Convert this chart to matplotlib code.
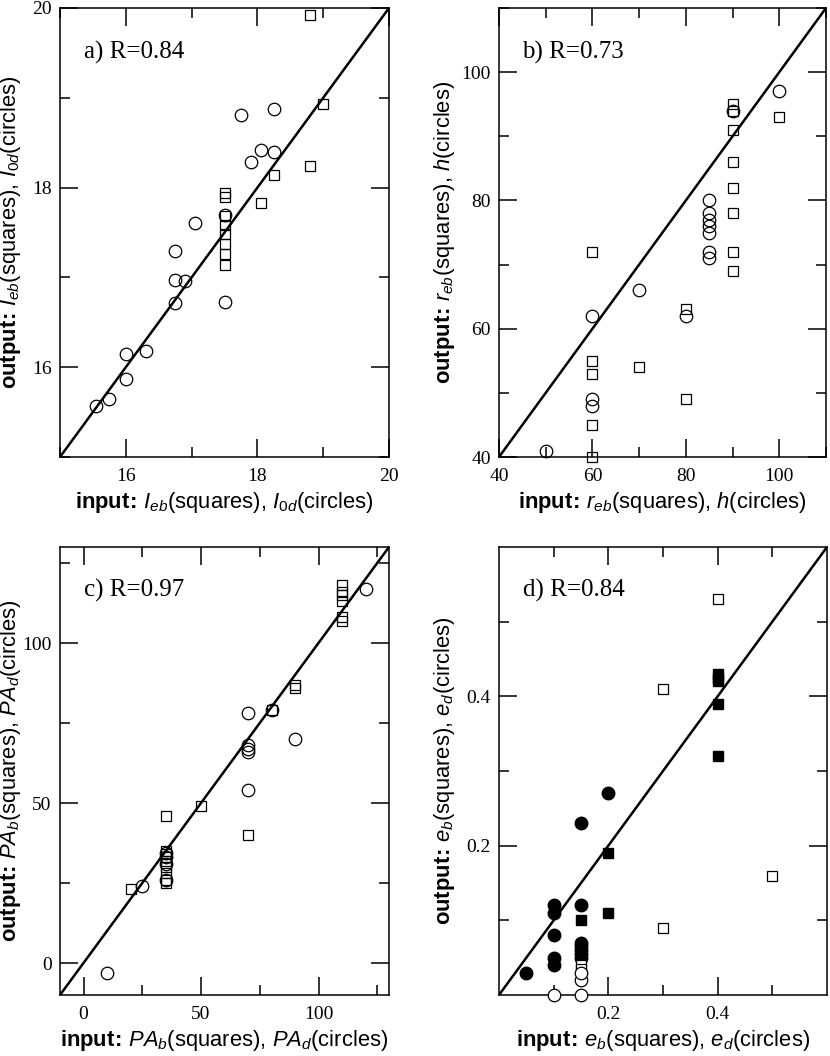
import numpy as np
import matplotlib
matplotlib.use("Agg")
import matplotlib.pyplot as plt
from matplotlib.ticker import FixedLocator

plt.rcParams['font.family'] = ['Liberation Sans', 'DejaVu Sans']
plt.rcParams['mathtext.fontset'] = 'custom'
plt.rcParams['mathtext.rm'] = 'Liberation Sans'
plt.rcParams['mathtext.it'] = 'Liberation Sans:italic'
plt.rcParams['mathtext.bf'] = 'Liberation Sans:bold'

# panel a: I_eb (squares), I_0d (circles)
a_sq_x = [18.8, 19.0, 18.8, 18.25, 18.05, 17.5, 17.5, 17.5, 17.5, 17.5, 17.5, 17.5, 17.5]
a_sq_y = [19.92, 18.93, 18.24, 18.14, 17.83, 17.94, 17.90, 17.68, 17.58, 17.48, 17.37, 17.26, 17.14]
a_ci_x = [17.75, 18.25, 18.05, 18.25, 17.9, 17.05, 17.5, 16.75, 16.75, 16.9, 16.75, 17.5,
          16.0, 16.3, 16.0, 15.75, 15.55]
a_ci_y = [18.81, 18.88, 18.42, 18.40, 18.28, 17.61, 17.69, 17.29, 16.97, 16.96, 16.71, 16.73,
          16.15, 16.18, 15.87, 15.65, 15.57]

# panel b: r_eb (squares), h (circles)
b_sq_x = [90, 90, 90, 90, 90, 90, 90, 90, 100, 60, 60, 60, 60, 60, 70, 80, 80]
b_sq_y = [95, 94, 91, 86, 82, 78, 72, 69, 93, 72, 55, 53, 45, 40, 54, 63, 49]
b_ci_x = [100, 90, 85, 85, 85, 85, 85, 85, 85, 70, 60, 80, 60, 60, 50]
b_ci_y = [97, 94, 80, 78, 77, 76, 75, 72, 71, 66, 62, 62, 49, 48, 41]

# panel c: PA_b (squares), PA_d (circles)
c_sq_x = [110, 110, 110, 110, 110, 110, 90, 90, 80, 50, 35, 70, 20,
          35, 35, 35, 35, 35, 35, 35, 35]
c_sq_y = [118, 116, 115, 113, 108, 107, 87, 86, 79, 49, 46, 40, 23,
          35, 34, 33, 32, 30, 28, 26, 25]
c_ci_x = [120, 70, 80, 90, 70, 70, 70, 70, 25, 10, 35, 35, 35, 35]
c_ci_y = [117, 78, 79, 70, 68, 67, 66, 54, 24, -3, 34.5, 33, 31, 26]

# panel d: e_b (squares), e_d (circles); open and filled
d_osq_x = [0.4, 0.3, 0.5, 0.3, 0.15, 0.15]
d_osq_y = [0.53, 0.41, 0.16, 0.09, 0.04, 0.035]
d_fsq_x = [0.4, 0.4, 0.4, 0.4, 0.4, 0.2, 0.2, 0.15]
d_fsq_y = [0.43, 0.425, 0.42, 0.39, 0.32, 0.19, 0.11, 0.10]
d_fci_x = [0.2, 0.15, 0.1, 0.1, 0.15, 0.1, 0.1, 0.1, 0.05, 0.15, 0.15, 0.15, 0.15, 0.15]
d_fci_y = [0.27, 0.23, 0.12, 0.11, 0.12, 0.08, 0.05, 0.04, 0.03, 0.07, 0.065, 0.06, 0.055, 0.05]
d_oci_x = [0.1, 0.15, 0.15, 0.15]
d_oci_y = [0.0, 0.0, 0.02, 0.03]

W, H = 830, 1056
fig = plt.figure(figsize=(W / 100, H / 100), dpi=100)


def make_axes(l, t, r, b):
    return fig.add_axes([l / W, 1 - b / H, (r - l) / W, (b - t) / H])


ax_a = make_axes(60, 8, 389, 457)
ax_b = make_axes(499, 8, 826, 457)
ax_c = make_axes(60, 547, 389, 995)
ax_d = make_axes(499, 547, 827, 995)

SQ = 7.2
CI = 9.0
MEW = 0.9

INP = r'$\mathbf{input}\!\mathbf{:}\!$ '
OUT = r'$\mathbf{output}\!\mathbf{:}\!$ '


def style(ax, lim, major, minor, text, rest, ylab_x):
    ax.set_xlim(lim)
    ax.set_ylim(lim)
    ax.plot(lim, lim, color='black', lw=1.8, zorder=1)
    for s in ax.spines.values():
        s.set_linewidth(1.1)
    ax.xaxis.set_major_locator(FixedLocator(major))
    ax.yaxis.set_major_locator(FixedLocator(major))
    ax.xaxis.set_minor_locator(FixedLocator(minor))
    ax.yaxis.set_minor_locator(FixedLocator(minor))
    ax.tick_params(which='both', direction='in', top=True, right=True, width=1.1)
    ax.tick_params(which='major', length=13)
    ax.tick_params(which='minor', length=7)
    ax.tick_params(axis='x', pad=8)
    ax.tick_params(axis='y', pad=6)
    for lab in ax.get_xticklabels() + ax.get_yticklabels():
        lab.set_fontfamily('Liberation Serif')
        lab.set_fontsize(14)
    ax.text(0.072, 0.902, text, transform=ax.transAxes, fontsize=18,
            fontfamily='Liberation Serif', va='center', ha='left')
    ax.set_xlabel(INP + rest, fontsize=15.8)
    ax.set_ylabel(OUT + rest, fontsize=15.8)
    ax.xaxis.set_label_coords(0.5, -0.073)
    ax.yaxis.set_label_coords(ylab_x, 0.5)


def open_pts(ax, x, y, m, size, face='none'):
    ax.plot(x, y, ls='none', marker=m, ms=size, mfc=face, mec='black', mew=MEW,
            clip_on=False, zorder=3)


open_pts(ax_a, a_sq_x, a_sq_y, 's', SQ)
open_pts(ax_a, a_ci_x, a_ci_y, 'o', CI)
style(ax_a, (15, 20), [16, 18, 20], [15, 17, 19], 'a) R=0.84',
      r'$\mathit{I_{eb}}$(squares), $\mathit{I_{0d}}$(circles)', -0.112)

open_pts(ax_b, b_sq_x, b_sq_y, 's', SQ)
open_pts(ax_b, b_ci_x, b_ci_y, 'o', CI)
style(ax_b, (40, 110), [40, 60, 80, 100], [50, 70, 90, 110], 'b) R=0.73',
      r'$\mathit{r_{eb}}$(squares), $\mathit{h}$(circles)', -0.128)

open_pts(ax_c, c_sq_x, c_sq_y, 's', SQ)
open_pts(ax_c, c_ci_x, c_ci_y, 'o', CI)
style(ax_c, (-10, 130), [0, 50, 100], [25, 75, 125], 'c) R=0.97',
      r'$\mathit{PA_{b}}$(squares), $\mathit{PA_{d}}$(circles)', -0.112)

ax_d.plot(d_fci_x, d_fci_y, ls='none', marker='o', ms=CI, color='black', clip_on=False, zorder=3)
ax_d.plot(d_fsq_x, d_fsq_y, ls='none', marker='s', ms=SQ, color='black', clip_on=False, zorder=3)
open_pts(ax_d, d_osq_x, d_osq_y, 's', SQ, face='white')
open_pts(ax_d, d_oci_x, d_oci_y, 'o', CI, face='white')
style(ax_d, (0, 0.6), [0.2, 0.4], [0.1, 0.3, 0.5], 'd) R=0.84',
      r'$\mathit{e_{b}}$(squares), $\mathit{e_{d}}$(circles)', -0.128)

fig.savefig('out.png', dpi=100)
